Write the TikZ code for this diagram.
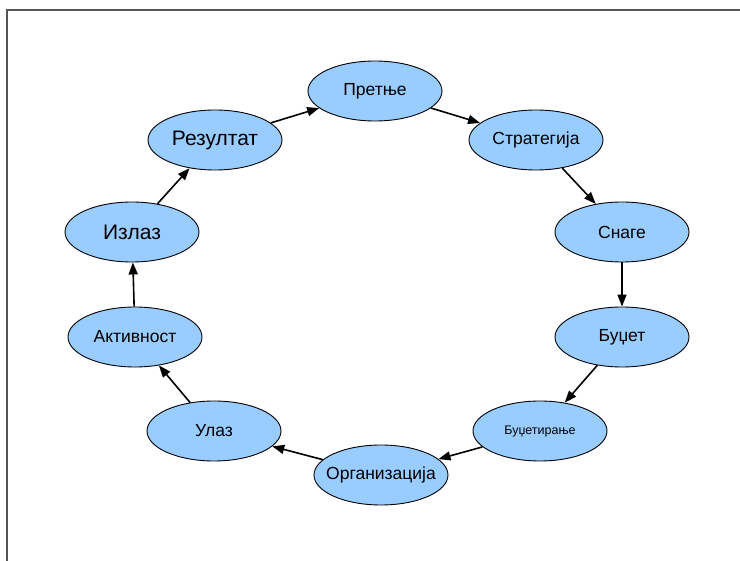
\documentclass[tikz,border=0pt]{standalone}
\usepackage{fontspec}
\setmainfont{Liberation Sans}
\usetikzlibrary{shapes.geometric,arrows.meta}
\definecolor{nodeblue}{RGB}{153,204,255}
\definecolor{framegray}{RGB}{85,85,85}
\newcommand{\ovaltext}[2]{\makebox[0pt]{\fontsize{#1}{#1}\selectfont #2}}
\begin{document}
\begin{tikzpicture}[x=1pt,y=-1pt,
  oval/.style={ellipse,draw=black,line width=0.9pt,fill=nodeblue,minimum width=134pt,minimum height=60pt,inner sep=0pt,text=black},
  link/.style={line width=1.6pt,-{Triangle[length=12pt,width=9pt]}}]
\useasboundingbox (0,0) rectangle (740,561);
\draw[framegray,line width=1.6pt] (7,561) -- (7,10) -- (740,10);
\node[oval] (pretnje) at (375,91) {\ovaltext{17.5}{Претње}};
\node[oval] (strategija) at (536,140) {\ovaltext{17.5}{Стратегија}};
\node[oval] (snage) at (622,232) {\ovaltext{17.5}{Снаге}};
\node[oval] (budzet) at (622,337) {\ovaltext{17.5}{Буџет}};
\node[oval] (budzetiranje) at (540,431) {\ovaltext{12.5}{Буџетирање}};
\node[oval] (organizacija) at (381,475) {\ovaltext{17.5}{Организација}};
\node[oval] (ulaz) at (214,431) {\ovaltext{17.5}{Улаз}};
\node[oval] (aktivnost) at (135,337) {\ovaltext{17.5}{Активност}};
\node[oval] (izlaz) at (132,232) {\ovaltext{21}{Излаз}};
\node[oval] (rezultat) at (215,140) {\ovaltext{21}{Резултат}};
\draw[link] (rezultat) -- (pretnje);
\draw[link] (pretnje) -- (strategija);
\draw[link] (strategija) -- (snage);
\draw[link] (snage) -- (budzet);
\draw[link] (budzet) -- (budzetiranje);
\draw[link] (budzetiranje) -- (organizacija);
\draw[link] (organizacija) -- (ulaz);
\draw[link] (ulaz) -- (aktivnost);
\draw[link] (aktivnost) -- (izlaz);
\draw[link] (izlaz) -- (rezultat);
\end{tikzpicture}
\end{document}
